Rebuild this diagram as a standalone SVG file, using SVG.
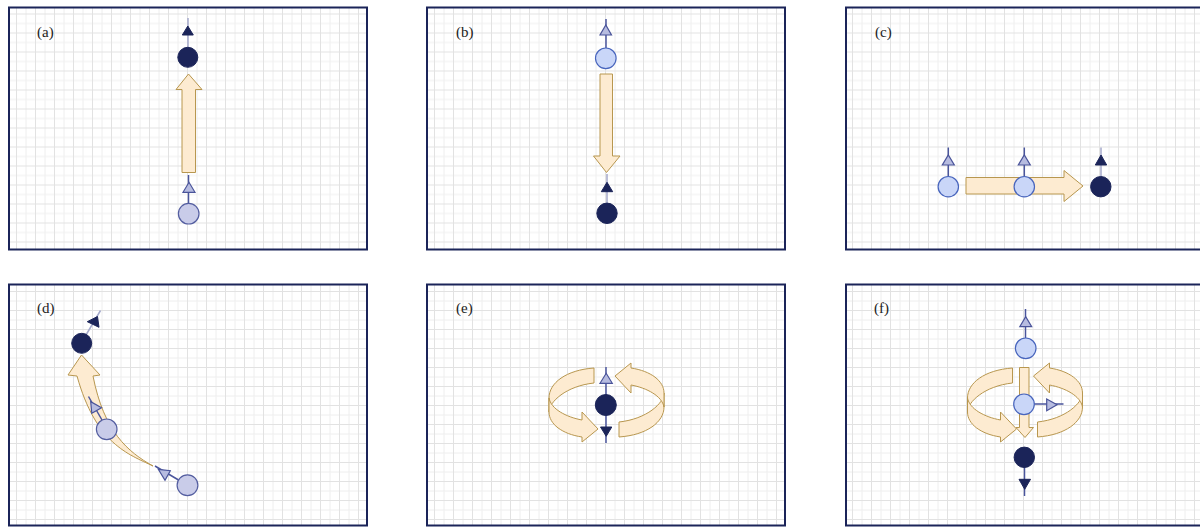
<svg xmlns="http://www.w3.org/2000/svg" width="1200" height="527" viewBox="0 0 1200 527">
  <defs>
    <pattern id="gridTop" patternUnits="userSpaceOnUse" x="16" y="13.5" width="19" height="19">
      <path d="M10 0V19M0 10H19" stroke="#eeeeee" stroke-width="1" fill="none"/>
      <path d="M0.5 0V19M0 0.5H19" stroke="#e2e2e2" stroke-width="1" fill="none"/>
    </pattern>
    <pattern id="gridBottom" patternUnits="userSpaceOnUse" x="16" y="291" width="19" height="19">
      <path d="M10 0V19M0 10H19" stroke="#eeeeee" stroke-width="1" fill="none"/>
      <path d="M0.5 0V19M0 0.5H19" stroke="#e2e2e2" stroke-width="1" fill="none"/>
    </pattern>
    <!-- ring arrow around a vertical axis, centred on (606.5, 402.5) -->
    <g id="ringHalf">
      <path class="flow" d="M594,368 C566,370 549,383 549,398 L549,412 C549,402 566,386 594,383 Z"/>
      <path class="flow" d="M549,398 C551,409 566,417 582,420 L582,412 L598,429 L582,442 L582,437 C562,434 549,424 549,412 Z"/>
    </g>
    <g id="ring">
      <use href="#ringHalf"/>
      <use href="#ringHalf" transform="rotate(180 606.5 402.5)"/>
    </g>
  </defs>
  <style>
    .frame { fill: none; stroke: #1b2459; stroke-width: 2; }
    .label { font-family: "Liberation Serif", serif; font-size: 15px; fill: #222; }
    .flow { fill: #fdebd1; stroke: #b8974f; stroke-width: 1; stroke-linejoin: miter; }
    .axisDark { stroke: #a4a9cb; stroke-width: 1.5; fill: none; }
    .axisLight { stroke: #4a559c; stroke-width: 1.5; fill: none; }
    .dark { fill: #1b2459; stroke: #1b2459; stroke-width: 1; }
    .lav { fill: #c9cce9; stroke: #545ea0; stroke-width: 1.2; }
    .blue { fill: #c9d6f8; stroke: #4865bd; stroke-width: 1.2; }
    .tri { fill: #b7bce0; stroke: #4a549a; stroke-width: 1.2; }
  </style>

  <!-- panel backgrounds -->
  <g id="panels">
    <rect x="9" y="7.5" width="358" height="242" fill="url(#gridTop)"/>
    <rect x="427" y="7.5" width="358" height="242" fill="url(#gridTop)"/>
    <rect x="846" y="7.5" width="360" height="242" fill="url(#gridTop)"/>
    <rect x="9" y="284.5" width="358" height="241" fill="url(#gridBottom)"/>
    <rect x="427" y="284.5" width="358" height="241" fill="url(#gridBottom)"/>
    <rect x="846" y="284.5" width="360" height="241" fill="url(#gridBottom)"/>
    <rect class="frame" x="9" y="7.5" width="358" height="242"/>
    <rect class="frame" x="427" y="7.5" width="358" height="242"/>
    <rect class="frame" x="846" y="7.5" width="360" height="242"/>
    <rect class="frame" x="9" y="284.5" width="358" height="241"/>
    <rect class="frame" x="427" y="284.5" width="358" height="241"/>
    <rect class="frame" x="846" y="284.5" width="360" height="241"/>
    <text class="label" x="37" y="36.5">(a)</text>
    <text class="label" x="456" y="36.5">(b)</text>
    <text class="label" x="875" y="36.5">(c)</text>
    <text class="label" x="37" y="312.5">(d)</text>
    <text class="label" x="456" y="312.5">(e)</text>
    <text class="label" x="874" y="312.5">(f)</text>
  </g>

  <!-- axis lines and flow arrows -->
  <g id="connectors">
    <!-- (a) -->
    <line class="axisDark" x1="188" y1="18" x2="188" y2="48"/>
    <line class="axisLight" x1="188.5" y1="175" x2="188.5" y2="203"/>
    <path class="flow" d="M182,172.5 L182,89.5 L176,89.5 L188.5,74 L202,89.5 L195.5,89.5 L195.5,172.5 Z"/>
    <!-- (b) -->
    <line class="axisLight" x1="606" y1="19" x2="606" y2="48"/>
    <line class="axisDark" x1="607" y1="174" x2="607" y2="204"/>
    <path class="flow" d="M600,74 L612.5,74 L612.5,156 L620,156 L606.5,172.5 L593.5,156 L600,156 Z"/>
    <!-- (c) -->
    <line class="axisLight" x1="948.3" y1="147.5" x2="948.3" y2="176"/>
    <line class="axisLight" x1="1024.3" y1="147.5" x2="1024.3" y2="176"/>
    <line class="axisDark" x1="1101" y1="147.5" x2="1101" y2="176"/>
    <path class="flow" d="M966,177.5 L1064,177.5 L1064,170.5 L1083,186 L1064,201.5 L1064,194 L966,194 Z"/>
    <!-- (d) -->
    <line class="axisDark" x1="86" y1="335" x2="100.5" y2="310.5"/>
    <path class="flow" d="M153,466 C128,454 96,444 77,376 L68,375 L81.5,355 L100,375 L93,376 C104,432 128,452 153,466 Z"/>
    <line class="axisLight" x1="88.5" y1="396.5" x2="102" y2="420"/>
    <line class="axisLight" x1="155" y1="466" x2="178.5" y2="480"/>
    <!-- (e) -->
    <line class="axisLight" x1="606" y1="367" x2="606" y2="443"/>
    <use href="#ring"/>
    <!-- (f) -->
    <line class="axisLight" x1="1025.5" y1="309" x2="1025.5" y2="338"/>
    <line class="axisLight" x1="1034" y1="404" x2="1063.5" y2="404"/>
    <line class="axisLight" x1="1024.5" y1="467" x2="1024.5" y2="496"/>
    <use href="#ring" transform="translate(418.5 0)"/>
    <path class="flow" d="M1019.5,367.5 L1029,367.5 L1029,427.5 L1033.5,427.5 L1025,437.5 L1016,427.5 L1019.5,427.5 Z"/>
  </g>

  <!-- (a) nodes -->
  <g id="a-spin-up-final">
    <polygon class="dark" points="182.3,35 193.3,35 187.8,26"/>
    <circle class="dark" cx="187.8" cy="57.3" r="10"/>
  </g>
  <g id="a-spin-up-initial">
    <polygon class="tri" points="183,192.3 195,192.3 189,182.3"/>
    <circle class="lav" cx="188.7" cy="213.7" r="10.3"/>
  </g>

  <!-- (b) nodes -->
  <g id="b-spin-initial">
    <polygon class="tri" points="600,35 611.5,35 605.8,25"/>
    <circle class="blue" cx="605.8" cy="58.3" r="10.3"/>
  </g>
  <g id="b-spin-final">
    <polygon class="dark" points="601.3,191.7 612.7,191.7 607,182.3"/>
    <circle class="dark" cx="607" cy="213.3" r="10.2"/>
  </g>

  <!-- (c) nodes -->
  <g id="c-spin-1">
    <polygon class="tri" points="942.3,165 954.3,165 948.3,155"/>
    <circle class="blue" cx="948.3" cy="186.7" r="10.2"/>
  </g>
  <g id="c-spin-2">
    <polygon class="tri" points="1018.3,165 1030.3,165 1024.3,155"/>
    <circle class="blue" cx="1024.3" cy="186.7" r="10.2"/>
  </g>
  <g id="c-spin-3">
    <polygon class="dark" points="1095.3,165 1106.7,165 1101,155"/>
    <circle class="dark" cx="1100.8" cy="186.7" r="10.2"/>
  </g>

  <!-- (d) nodes -->
  <g id="d-spin-final">
    <polygon class="dark" points="87.3,321.7 97.5,316.5 99,327.3"/>
    <circle class="dark" cx="81.7" cy="343.3" r="10"/>
  </g>
  <g id="d-spin-middle">
    <polygon class="tri" points="90.7,401.7 91.8,413.3 101.5,407.8"/>
    <circle class="lav" cx="106.7" cy="429.3" r="10.3"/>
  </g>
  <g id="d-spin-initial">
    <polygon class="tri" points="158.3,469.3 170.3,470.7 165,480.3"/>
    <circle class="lav" cx="187.5" cy="485.2" r="10.4"/>
  </g>

  <!-- (e) nodes -->
  <g id="e-spin">
    <polygon class="tri" points="600,383.3 612.3,383.3 606.2,373.3"/>
    <polygon class="dark" points="600.5,427 611.8,427 606.2,436.3"/>
    <circle class="dark" cx="605.8" cy="405" r="10.5"/>
  </g>

  <!-- (f) nodes -->
  <g id="f-spin-top">
    <polygon class="tri" points="1019.8,326.7 1031.7,326.7 1025.7,316.7"/>
    <circle class="blue" cx="1025.7" cy="348.3" r="10.3"/>
  </g>
  <g id="f-spin-middle">
    <polygon class="tri" points="1046.7,399 1046.7,410.7 1057,404.8"/>
    <circle class="blue" cx="1024" cy="404.3" r="10.3"/>
  </g>
  <g id="f-spin-bottom">
    <polygon class="dark" points="1019,479.3 1030.5,479.3 1024.7,489.3"/>
    <circle class="dark" cx="1024.3" cy="457.3" r="10.2"/>
  </g>
</svg>
